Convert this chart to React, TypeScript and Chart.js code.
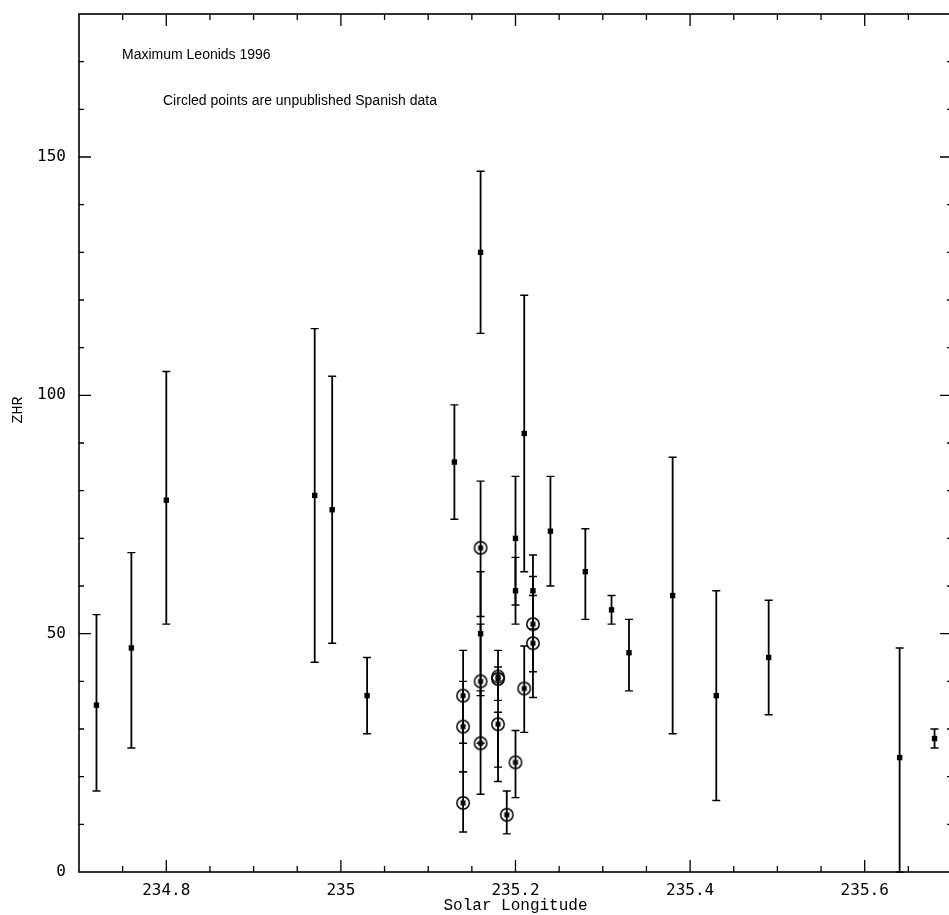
import React, { useEffect, useRef } from 'react';
import { Chart, registerables } from 'chart.js';

Chart.register(...registerables);

// IMO data (filled squares)
const imoLon = [234.72, 234.76, 234.80, 234.97, 234.99, 235.03, 235.13, 235.16, 235.16, 235.20, 235.20, 235.21, 235.22, 235.24, 235.28, 235.31, 235.33, 235.38, 235.43, 235.49, 235.64, 235.68];
const imoZhr = [35, 47, 78, 79, 76, 37, 86, 130, 50, 70, 59, 92, 59, 71.5, 63, 55, 46, 58, 37, 45, 24, 28];
const imoLow = [17, 26, 52, 44, 48, 29, 74, 113, 37, 56, 52, 63, 51, 60, 53, 52, 38, 29, 15, 33, 0, 26];
const imoHigh = [54, 67, 105, 114, 104, 45, 98, 147, 63, 83, 66, 121, 66.5, 83, 72, 58, 53, 87, 59, 57, 47, 30];

// Unpublished Spanish data (circled points)
const spainLon = [235.14, 235.14, 235.14, 235.16, 235.16, 235.16, 235.18, 235.18, 235.18, 235.19, 235.20, 235.21, 235.22, 235.22];
const spainZhr = [37, 30.5, 14.5, 68, 40, 27, 41, 40.5, 31, 12, 23, 38.5, 52, 48];
const spainLow = [27, 21, 8.4, 53.6, 27, 16.3, 36, 22, 19, 8, 15.6, 29.3, 42, 36.6];
const spainHigh = [46.5, 40, 21, 82, 52, 38, 46.5, 43, 33.5, 17, 29.7, 47.4, 62, 58];

// Axes
const xMin = 234.7;
const xMax = 235.7;
const yMin = 0;
const yMax = 180;
const xMajorTicks = [234.8, 235, 235.2, 235.4, 235.6];
const xMinorStep = 0.05;
const yMajorTicks = [0, 50, 100, 150];
const yMinorStep = 10;

const titleLine1 = 'Maximum Leonids 1996';
const titleLine2 = 'Circled points are unpublished Spanish data';
const xTitle = 'Solar Longitude';
const yTitle = 'ZHR';

const TICK_FONT = "'DejaVu Sans Mono', 'Liberation Mono', monospace";
const TITLE_FONT = "'Liberation Mono', 'DejaVu Sans Mono', monospace";
const NOTE_FONT = "'Liberation Sans', 'DejaVu Sans', sans-serif";

function makeCircleMarker(): HTMLCanvasElement {
  const c = document.createElement('canvas');
  c.width = 16;
  c.height = 16;
  const g = c.getContext('2d')!;
  g.strokeStyle = '#000';
  g.lineWidth = 1.5;
  g.beginPath();
  g.arc(8, 8, 6.2, 0, Math.PI * 2);
  g.stroke();
  g.fillStyle = '#000';
  g.fillRect(5.5, 5.5, 5, 5);
  return c;
}

const errorBarsPlugin = {
  id: 'errorBars',
  beforeDatasetsDraw(chart: any) {
    const ctx = chart.ctx;
    const xs = chart.scales.x;
    const ys = chart.scales.y;
    ctx.save();
    ctx.strokeStyle = '#000';
    const draw = (lon: number[], lo: number[], hi: number[]) => {
      lon.forEach((v, i) => {
        const px = xs.getPixelForValue(v);
        const y1 = ys.getPixelForValue(lo[i]);
        const y2 = ys.getPixelForValue(hi[i]);
        ctx.lineWidth = 1.8;
        ctx.beginPath();
        ctx.moveTo(px, y1);
        ctx.lineTo(px, y2);
        ctx.stroke();
        ctx.lineWidth = 1.4;
        ctx.beginPath();
        ctx.moveTo(px - 4, y1);
        ctx.lineTo(px + 4, y1);
        ctx.moveTo(px - 4, y2);
        ctx.lineTo(px + 4, y2);
        ctx.stroke();
      });
    };
    draw(imoLon, imoLow, imoHigh);
    draw(spainLon, spainLow, spainHigh);
    ctx.restore();
  },
};

const framePlugin = {
  id: 'frameTicks',
  afterDraw(chart: any) {
    const ctx = chart.ctx;
    const a = chart.chartArea;
    const xs = chart.scales.x;
    const ys = chart.scales.y;
    ctx.save();
    ctx.strokeStyle = '#000';
    ctx.lineWidth = 1.6;
    ctx.strokeRect(a.left, a.top, a.right - a.left, a.bottom - a.top);

    ctx.lineWidth = 1.3;
    ctx.beginPath();
    const nX = Math.round((xMax - xMin) / xMinorStep);
    for (let i = 1; i < nX; i++) {
      const v = xMin + i * xMinorStep;
      const major = xMajorTicks.some((m) => Math.abs(m - v) < 1e-6);
      const len = major ? 12 : 6;
      const px = xs.getPixelForValue(v);
      ctx.moveTo(px, a.bottom);
      ctx.lineTo(px, a.bottom - len);
      ctx.moveTo(px, a.top);
      ctx.lineTo(px, a.top + len);
    }
    const nY = Math.round((yMax - yMin) / yMinorStep);
    for (let i = 1; i < nY; i++) {
      const v = yMin + i * yMinorStep;
      const major = yMajorTicks.some((m) => Math.abs(m - v) < 1e-6);
      const len = major ? 12 : 5;
      const py = ys.getPixelForValue(v);
      ctx.moveTo(a.left, py);
      ctx.lineTo(a.left + len, py);
      ctx.moveTo(a.right, py);
      ctx.lineTo(a.right - len, py);
    }
    ctx.stroke();

    // annotations
    ctx.fillStyle = '#000';
    ctx.font = `14px ${NOTE_FONT}`;
    ctx.textBaseline = 'middle';
    ctx.textAlign = 'left';
    ctx.fillText(titleLine1, 122, 55);
    ctx.fillText(titleLine2, 163, 101);

    // y axis title
    ctx.font = `15px ${TITLE_FONT}`;
    ctx.save();
    ctx.translate(18, 410);
    ctx.rotate(-Math.PI / 2);
    ctx.textAlign = 'center';
    ctx.fillText(yTitle, 0, 0);
    ctx.restore();

    ctx.restore();
  },
};

export default function App() {
  const ref = useRef<HTMLCanvasElement | null>(null);

  useEffect(() => {
    if (!ref.current) return;
    const marker = makeCircleMarker();
    const chart = new Chart(ref.current, {
      type: 'scatter',
      data: {
        datasets: [
          {
            label: 'ZHR',
            data: imoLon.map((x, i) => ({ x, y: imoZhr[i] })),
            pointStyle: 'rect',
            pointRadius: 3.8,
            backgroundColor: '#000',
            borderColor: '#000',
            borderWidth: 0,
          },
          {
            label: 'Spanish data',
            data: spainLon.map((x, i) => ({ x, y: spainZhr[i] })),
            pointStyle: marker as any,
            pointRadius: 6,
            backgroundColor: '#000',
            borderColor: '#000',
          },
        ],
      },
      options: {
        responsive: false,
        animation: false,
        layout: { padding: { top: 14, right: 8, left: 0, bottom: 0 } },
        plugins: {
          legend: { display: false },
          tooltip: { enabled: false },
        },
        scales: {
          x: {
            type: 'linear',
            position: 'bottom',
            min: xMin,
            max: xMax,
            afterBuildTicks: (s: any) => {
              s.ticks = xMajorTicks.map((v) => ({ value: v }));
            },
            afterFit: (s: any) => {
              s.height = 43;
              s.paddingLeft = 0;
              s.paddingRight = 0;
            },
            grid: { display: false, drawTicks: false },
            border: { display: false },
            ticks: {
              padding: 9,
              color: '#000',
              autoSkip: false,
              maxRotation: 0,
              font: { family: TICK_FONT, size: 16 },
              callback: (v: any) => String(v),
            },
            title: {
              display: true,
              text: xTitle,
              color: '#000',
              font: { family: TITLE_FONT, size: 16 },
              padding: 0,
            },
          },
          y: {
            type: 'linear',
            min: yMin,
            max: yMax,
            afterBuildTicks: (s: any) => {
              s.ticks = yMajorTicks.map((v) => ({ value: v }));
            },
            afterFit: (s: any) => {
              s.width = 79;
              s.paddingTop = 0;
              s.paddingBottom = 0;
            },
            grid: { display: false, drawTicks: false },
            border: { display: false },
            ticks: {
              padding: 13,
              color: '#000',
              font: { family: TICK_FONT, size: 16 },
              callback: (v: any) => String(v),
            },
          },
        },
      },
      plugins: [errorBarsPlugin, framePlugin],
    });
    return () => chart.destroy();
  }, []);

  return (
    <div
      style={{
        position: 'fixed',
        left: 0,
        top: 0,
        width: 949,
        height: 915,
        overflow: 'hidden',
        background: '#fff',
      }}
    >
      <canvas ref={ref} width={960} height={915} style={{ display: 'block' }} />
    </div>
  );
}
